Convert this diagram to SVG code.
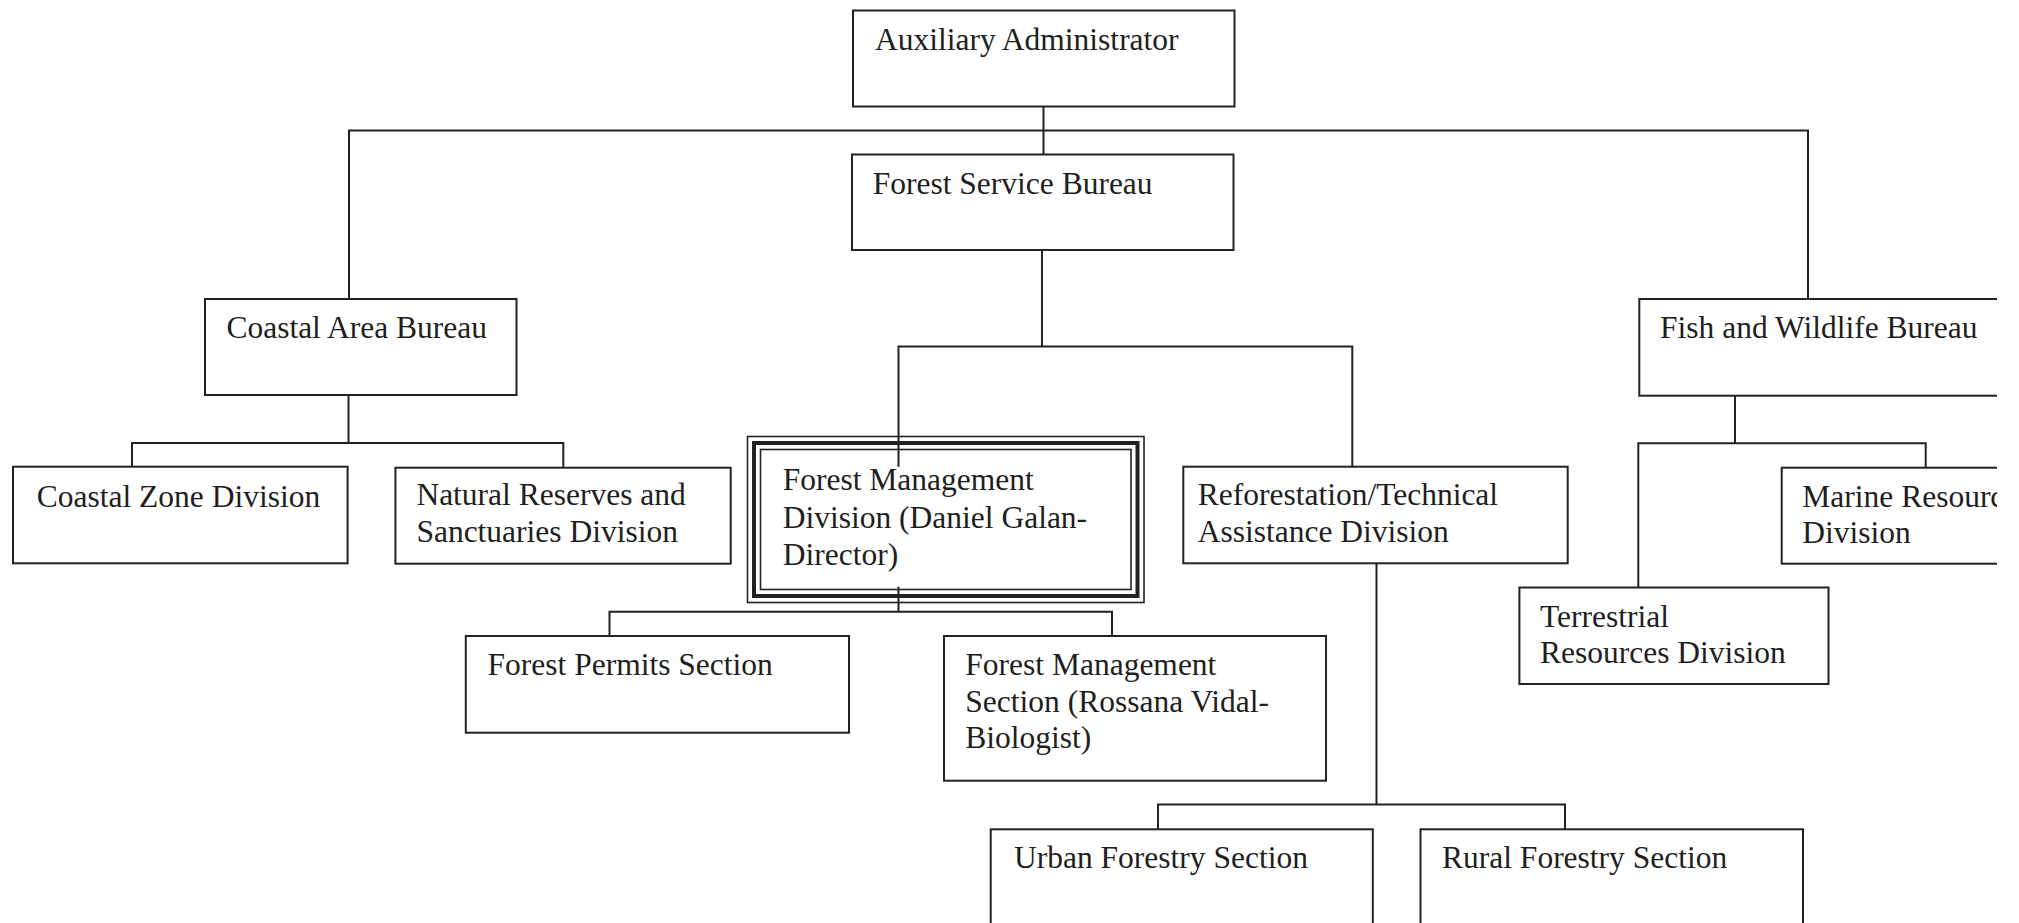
<svg xmlns="http://www.w3.org/2000/svg" width="2019" height="923" viewBox="0 0 2019 923">
<style>
.box{fill:none;stroke:#222;stroke-width:2}
.thick{fill:none;stroke:#222;stroke-width:4}
.thin{fill:none;stroke:#222;stroke-width:1.6}
.conn{fill:none;stroke:#222;stroke-width:2}
text{font-family:"Liberation Serif","Times New Roman",serif;font-size:31.5px;fill:#1e1e1e}
</style>
<defs>
<clipPath id="page"><rect x="0" y="0" width="1997" height="923"/></clipPath>
</defs>
<rect x="0" y="0" width="2019" height="923" fill="#fff"/>
<g clip-path="url(#page)">
<g id="connectors">
<path class="conn" d="M1043.5 106.5V154.5"/>
<path class="conn" d="M349 299V130.5H1808V299"/>
<path class="conn" d="M1042 250V346.5"/>
<path class="conn" d="M898.5 466.7V346.5H1352.3V466.7"/>
<path class="conn" d="M348.5 395V443"/>
<path class="conn" d="M132 466.7V443H563.3V467.7"/>
<path class="conn" d="M898.5 586.7V611.7"/>
<path class="conn" d="M609.5 636V611.7H1112V636"/>
<path class="conn" d="M1376.5 563.3V804.5"/>
<path class="conn" d="M1158 829.3V804.5H1565V829.3"/>
<path class="conn" d="M1735 395.7V443.3"/>
<path class="conn" d="M1638.3 587.5V443.3H1925.7V467.7"/>
</g>
<g id="aux">
<rect class="box" x="853" y="10.5" width="381.5" height="96"/>
<text x="875" y="50">Auxiliary Administrator</text>
</g>
<g id="fsb">
<rect class="box" x="852" y="154.5" width="381.5" height="95.5"/>
<text x="872.7" y="194">Forest Service Bureau</text>
</g>
<g id="coastal-area">
<rect class="box" x="205" y="299" width="311.5" height="96"/>
<text x="226.4" y="338.3">Coastal Area Bureau</text>
</g>
<g id="fish-wildlife">
<rect class="box" x="1639.3" y="299" width="420" height="96.7"/>
<text x="1660" y="338.3">Fish and Wildlife Bureau</text>
</g>
<g id="coastal-zone">
<rect class="box" x="13" y="466.7" width="334.6" height="96.6"/>
<text x="36.7" y="507.3">Coastal Zone Division</text>
</g>
<g id="natural-reserves">
<rect class="box" x="395.4" y="467.7" width="335.3" height="96"/>
<text x="416.4" y="505">Natural Reserves and</text>
<text x="416.4" y="541.7">Sanctuaries Division</text>
</g>
<g id="forest-management-division">
<rect class="thin" x="747.5" y="436.5" width="396.5" height="166"/>
<rect class="thick" x="754" y="443" width="383.5" height="153"/>
<rect class="thin" x="760.5" y="449.5" width="370.5" height="140"/>
<text x="782.7" y="490">Forest Management</text>
<text x="782.7" y="527.5">Division (Daniel Galan-</text>
<text x="782.7" y="565">Director)</text>
</g>
<g id="reforestation">
<rect class="box" x="1183.3" y="466.7" width="384.4" height="96.6"/>
<text x="1197.7" y="505">Reforestation/Technical</text>
<text x="1197.7" y="541.7">Assistance Division</text>
</g>
<g id="marine">
<rect class="box" x="1781.7" y="467.7" width="300" height="96"/>
<text x="1802.3" y="506.7">Marine Resources</text>
<text x="1802.3" y="543.3">Division</text>
</g>
<g id="terrestrial">
<rect class="box" x="1519.4" y="587.5" width="309.1" height="96.5"/>
<text x="1540" y="626.7">Terrestrial</text>
<text x="1540" y="663.3">Resources Division</text>
</g>
<g id="forest-permits">
<rect class="box" x="465.8" y="636" width="383.2" height="96.7"/>
<text x="487.6" y="675">Forest Permits Section</text>
</g>
<g id="forest-management-section">
<rect class="box" x="944" y="636" width="382" height="144.7"/>
<text x="965.3" y="675">Forest Management</text>
<text x="965.3" y="711.5">Section (Rossana Vidal-</text>
<text x="965.3" y="748.3">Biologist)</text>
</g>
<g id="urban-forestry">
<rect class="box" x="990.7" y="829.3" width="382.1" height="140"/>
<text x="1014" y="868.3">Urban Forestry Section</text>
</g>
<g id="rural-forestry">
<rect class="box" x="1420.5" y="829.3" width="382.5" height="140"/>
<text x="1442" y="868.3">Rural Forestry Section</text>
</g>
</g>
</svg>
